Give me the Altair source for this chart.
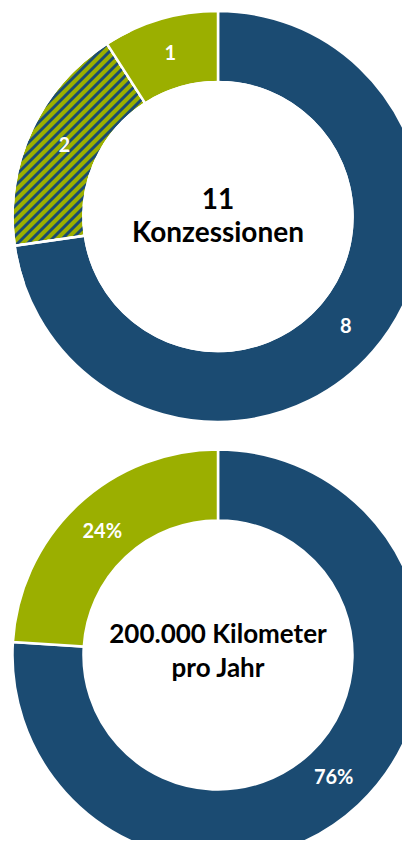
import altair as alt
import numpy as np
import pandas as pd

# ---------------- data ----------------
top_keys = ["blau", "schraffiert", "gruen"]
top_values = [8, 2, 1]
top_labels = ["8", "2", "1"]

bottom_keys = ["blau", "gruen"]
bottom_values = [76, 24]
bottom_labels = ["76%", "24%"]

top_title = ["11", "Konzessionen"]
bottom_title = ["200.000 Kilometer", "pro Jahr"]

# ---------------- layout / style ----------------
BLUE = "#1B4B72"
GREEN = "#9BAF00"
FONT = "Lato"
W, H = 394, 832
CX = 210
TOP_CY = 208.5
BOT_CY = 647
R_OUT = 205.5
R_IN = 134.5
R_LABEL = 169
SEP = 2.5
TITLE_OFFSETS_TOP = [-7.5, 25.5]
TITLE_OFFSETS_BOT = [-12, 22]
TITLE_SIZES = [28, 28, 26, 26]
LABEL_SIZE = 20
STRIPE_STEP = 10
STRIPE_WIDTH = 3.0
STRIPE_BOX = (0, 140, 35, 245)  # x0, x1, y0, y1 in view pixels


def slices(name, keys, values, labels, cy):
    v = np.array(values, dtype=float)
    frac = v / v.sum()
    end = np.cumsum(frac)
    start = end - frac
    return pd.DataFrame({
        "donut": name, "key": keys, "label": labels,
        "start": start, "end": end, "mid": (start + end) / 2,
        "cx": CX, "cy": cy,
    })


arcs = pd.concat([
    slices("top", top_keys, top_values, top_labels, TOP_CY),
    slices("bottom", bottom_keys, bottom_values, bottom_labels, BOT_CY),
], ignore_index=True)

hatched = arcs[arcs["key"] == "schraffiert"].iloc[0]

# stripe pattern (45 degree "/" lines) over the hatched slice's neighbourhood
x0, x1, y0, y1 = STRIPE_BOX
rows = []
for c in np.arange(x0 + y0, x1 + y1 + STRIPE_STEP, STRIPE_STEP):
    xa = max(x0, c - y1)
    xb = min(x1, c - y0)
    if xb > xa:
        rows.append({"x": xa, "y": c - xa, "x2": xb, "y2": c - xb})
stripes = pd.DataFrame(rows)

disk = pd.DataFrame({"cx": [CX], "cy": [TOP_CY], "start": [0.0], "end": [1.0]})
ring = pd.DataFrame({"cx": [CX], "cy": [TOP_CY],
                     "start": [hatched["start"] - 0.03], "end": [hatched["end"] + 0.02]})

titles = pd.DataFrame({
    "text": top_title + bottom_title,
    "size": TITLE_SIZES,
    "cx": [CX] * 4,
    "cy": [TOP_CY + o for o in TITLE_OFFSETS_TOP] + [BOT_CY + o for o in TITLE_OFFSETS_BOT],
})

# ---------------- scales / encodings ----------------
xs = alt.Scale(domain=[0, W], nice=False, zero=False)
ys = alt.Scale(domain=[0, H], reverse=True, nice=False, zero=False)
ts = alt.Scale(domain=[0, 1], range=[0, 2 * np.pi])

X = alt.X("cx:Q", scale=xs, axis=None)
Y = alt.Y("cy:Q", scale=ys, axis=None)
T = alt.Theta("start:Q", scale=ts, stack=None)
T2 = alt.Theta2("end:Q")
C = alt.Color("key:N", scale=alt.Scale(domain=["blau", "schraffiert", "gruen"],
                                       range=[BLUE, GREEN, GREEN]), legend=None)

base = alt.Chart(arcs).mark_arc(
    innerRadius=R_IN, outerRadius=R_OUT, stroke="white", strokeWidth=SEP
).encode(x=X, y=Y, theta=T, theta2=T2, color=C)

stripe_layer = alt.Chart(stripes).mark_rule(
    color=BLUE, strokeWidth=STRIPE_WIDTH, strokeCap="butt"
).encode(
    x=alt.X("x:Q", scale=xs, axis=None), y=alt.Y("y:Q", scale=ys, axis=None),
    x2="x2:Q", y2="y2:Q",
)

cover = alt.Chart(arcs).mark_arc(
    innerRadius=R_IN, outerRadius=R_OUT, stroke="white", strokeWidth=SEP
).encode(
    x=X, y=Y, theta=T, theta2=T2, color=C,
    fillOpacity=alt.condition(alt.datum.key == "schraffiert", alt.value(0), alt.value(1)),
)

disk_layer = alt.Chart(disk).mark_arc(
    innerRadius=0, outerRadius=R_IN + SEP / 2, color="white"
).encode(x=X, y=Y, theta=T, theta2=T2)

ring_layer = alt.Chart(ring).mark_arc(
    innerRadius=R_OUT - SEP / 2, outerRadius=320, color="white"
).encode(x=X, y=Y, theta=T, theta2=T2)

label_layer = alt.Chart(arcs).mark_text(
    radius=R_LABEL, font=FONT, fontWeight="bold", fontSize=LABEL_SIZE, color="white"
).encode(
    x=X, y=Y, theta=alt.Theta("mid:Q", scale=ts, stack=None), text="label:N"
)

title_layer = alt.Chart(titles).mark_text(
    font=FONT, fontWeight="bold", color="black", baseline="alphabetic"
).encode(
    x=X, y=Y, text="text:N",
    size=alt.Size("size:Q", scale=None, legend=None),
)

chart = alt.layer(
    base, stripe_layer, cover, disk_layer, ring_layer, label_layer, title_layer
).properties(
    width=W, height=H, padding=0, autosize=alt.AutoSizeParams(type="none")
).configure_view(stroke=None)

chart.save("out.html", embed_options={"renderer": "svg", "actions": False})
